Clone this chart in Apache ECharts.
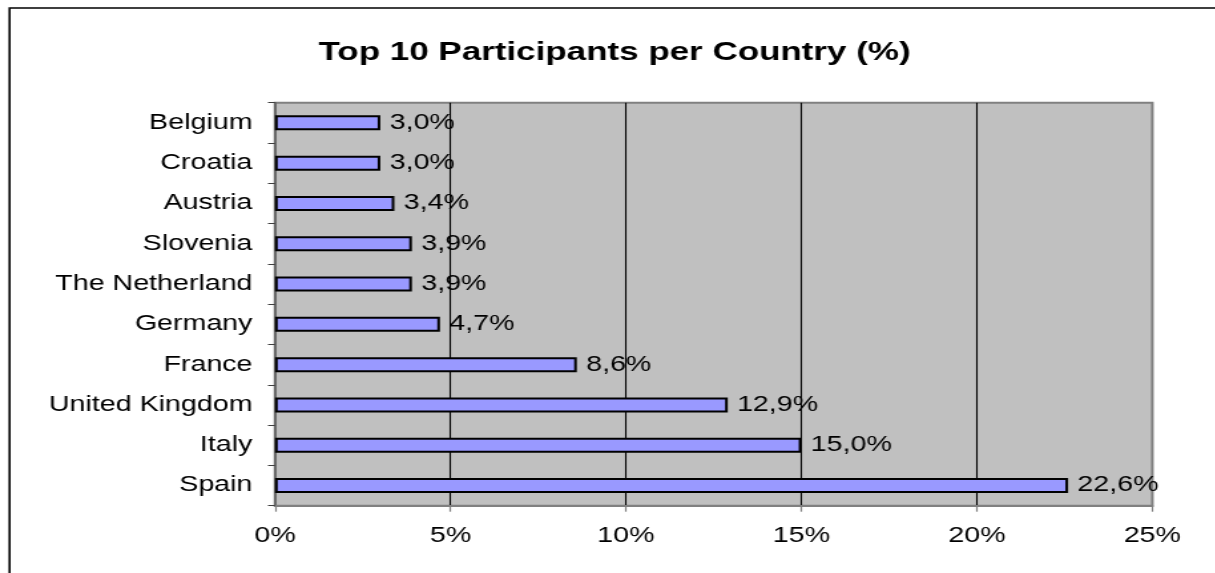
<!DOCTYPE html>
<html>
<head>
<meta charset="utf-8">
<script src="https://cdn.jsdelivr.net/npm/echarts@6/dist/echarts.min.js"></script>
<style>
html,body{margin:0;padding:0;background:#fff;overflow:hidden;}
#wrap{width:1215px;height:573px;overflow:hidden;position:relative;}
#chart{width:913.5px;height:573px;transform:scaleX(1.33);transform-origin:0 0;}
</style>
</head>
<body>
<div id="wrap"><div id="chart"></div></div>
<script>
// Categories listed bottom to top
const countries = ['Spain','Italy','United Kingdom','France','Germany','The Netherland','Slovenia','Austria','Croatia','Belgium'];
const shares = [22.6, 15.0, 12.9, 8.6, 4.7, 3.9, 3.9, 3.4, 3.0, 3.0];
const xTicks = [0, 5, 10, 15, 20, 25];

const chart = echarts.init(document.getElementById('chart'), null, {renderer: 'canvas'});
const FONT = '"Liberation Sans", Arial, sans-serif';
chart.setOption({
  backgroundColor: '#ffffff',
  animation: false,
  title: {
    text: 'Top 10 Participants per Country (%)',
    left: 234.5,
    top: 35,
    textStyle: {fontFamily: FONT, fontSize: 26.3, fontWeight: 'bold', color: '#000'}
  },
  graphic: [{
    type: 'rect',
    shape: {x: 7.2, y: 8, width: 2000, height: 2000},
    style: {fill: 'none', stroke: '#000', lineWidth: 1.6},
    silent: true
  }],
  grid: {
    left: 206.8, right: 47.6, top: 102.7, bottom: 67.3,
    show: true, backgroundColor: '#C0C0C0', borderColor: '#808080', borderWidth: 2
  },
  xAxis: {
    type: 'value',
    min: xTicks[0], max: xTicks[xTicks.length - 1], interval: 5,
    axisLine: {show: true, lineStyle: {color: '#808080', width: 2}},
    axisTick: {show: true, length: 6, lineStyle: {color: '#808080', width: 1.2}},
    axisLabel: {fontFamily: FONT, fontSize: 21.5, color: '#000', margin: 19, formatter: '{value}%'},
    splitLine: {show: true, lineStyle: {color: ['#808080','#000','#000','#000','#000','#808080'], width: 1.1}}
  },
  yAxis: {
    type: 'category',
    data: countries,
    axisLine: {show: true, lineStyle: {color: '#606060', width: 1.5}},
    axisTick: {show: true, length: 5.3, lineStyle: {color: '#404040', width: 1}},
    axisLabel: {fontFamily: FONT, fontSize: 21.5, color: '#000', margin: 17}
  },
  series: [{
    type: 'bar',
    data: shares,
    barWidth: 15,
    itemStyle: {color: '#9999FF', borderColor: '#000', borderWidth: 2},
    label: {
      show: true, position: 'right', distance: 7,
      fontFamily: FONT, fontSize: 21.5, color: '#000',
      formatter: p => p.value.toFixed(1).replace('.', ',') + '%'
    }
  }]
});
</script>
</body>
</html>
